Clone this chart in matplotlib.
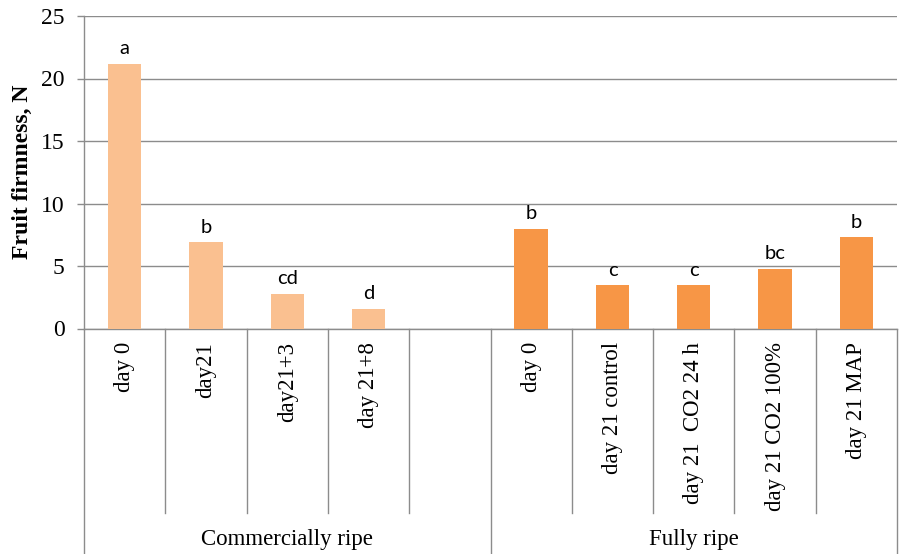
import matplotlib
matplotlib.use("Agg")
import matplotlib.pyplot as plt
import matplotlib.transforms as mtransforms

# Firmness data
commercial_labels = ["day 0", "day21", "day21+3", "day 21+8"]
commercial_values = [21.2, 6.9, 2.8, 1.6]
commercial_letters = ["a", "b", "cd", "d"]

fully_labels = ["day 0", "day 21 control", "day 21  CO2 24 h", "day 21 CO2 100%", "day 21 MAP"]
fully_values = [8.0, 3.5, 3.5, 4.8, 7.3]
fully_letters = ["b", "c", "c", "bc", "b"]

group_names = ["Commercially ripe", "Fully ripe"]
y_ticks = [0, 5, 10, 15, 20, 25]

light_orange = "#FAC090"
dark_orange = "#F79646"
grid_grey = "#8C8C8C"
serif = "Liberation Serif"

fig = plt.figure(figsize=(9.0, 5.54), dpi=100)
ax = fig.add_axes([84 / 900, 1 - 328.5 / 554, 813 / 900, 312.5 / 554])

# slots: 4 commercial, 1 empty, 5 fully ripe
n_slots = len(commercial_labels) + 1 + len(fully_labels)
comm_x = [i + 0.5 for i in range(len(commercial_labels))]
fully_x = [len(commercial_labels) + 1 + i + 0.5 for i in range(len(fully_labels))]

bw = 0.41
ax.bar(comm_x, commercial_values, width=bw, color=light_orange, zorder=3)
ax.bar(fully_x, fully_values, width=bw, color=dark_orange, zorder=3)

for x, v, s in zip(comm_x + fully_x, commercial_values + fully_values,
                   commercial_letters + fully_letters):
    ax.annotate(s, (x, v), xytext=(0, 4.5), textcoords="offset points",
                ha="center", va="bottom", fontsize=14.5, family="Lato")

ax.set_xlim(0, n_slots)
ax.set_ylim(0, 25)
ax.set_yticks(y_ticks)
ax.set_yticklabels([str(t) for t in y_ticks], family=serif, fontsize=17)
ax.yaxis.grid(True, color=grid_grey, linewidth=1.0, zorder=0)
ax.set_axisbelow(True)
ax.tick_params(axis="y", length=5, width=1.0, color=grid_grey, pad=9)
ax.set_xticks([])
for side in ("top", "right"):
    ax.spines[side].set_visible(False)
for side in ("left", "bottom"):
    ax.spines[side].set_color(grid_grey)
    ax.spines[side].set_linewidth(1.0)

ax.set_ylabel("Fruit firmness, N", family=serif, fontsize=17,
              fontweight="bold", labelpad=6)

# multi-level category axis below the plot
trans = mtransforms.blended_transform_factory(ax.transData, ax.transAxes)
inner_bottom = (328.5 - 513) / 312.5
outer_bottom = (328.5 - 554) / 312.5
group_edges = [0, len(commercial_labels) + 1, n_slots]
for b in range(n_slots + 1):
    y_end = outer_bottom if b in group_edges else inner_bottom
    ax.plot([b, b], [0, y_end], color=grid_grey, linewidth=1.0,
            transform=trans, clip_on=False)

label_top = (328.5 - 342) / 312.5
for x, s in zip(comm_x + fully_x, commercial_labels + fully_labels):
    ax.text(x, label_top, s, rotation=90, ha="center", va="top",
            family=serif, fontsize=16.5, transform=trans)

group_y = (328.5 - 540) / 312.5
for i, name in enumerate(group_names):
    xc = (group_edges[i] + group_edges[i + 1]) / 2
    ax.text(xc, group_y, name, ha="center", va="center",
            family=serif, fontsize=16.5, transform=trans)

fig.savefig("out.png", dpi=100)
